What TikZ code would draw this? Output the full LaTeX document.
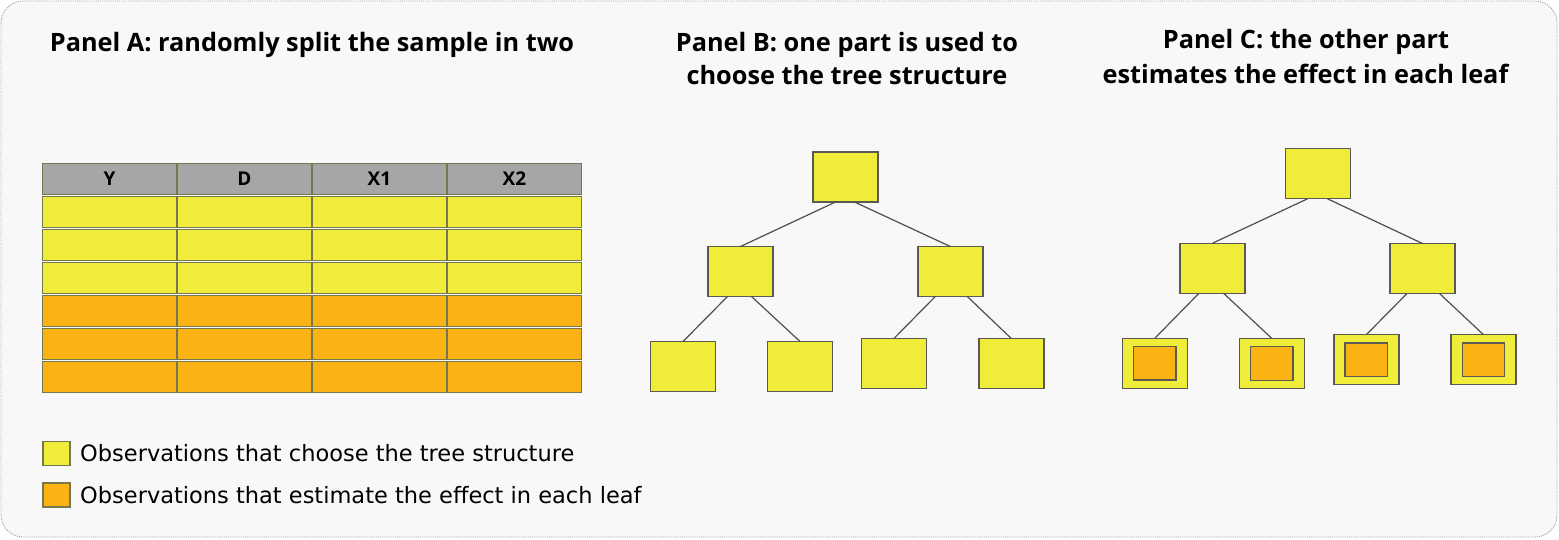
\documentclass[tikz,border=0pt]{standalone}
\usepackage{fontspec}
\setmainfont{Open Sans}
\newfontfamily\legfont{DejaVu Sans}
\definecolor{bgc}{HTML}{F8F8F8}
\definecolor{framec}{HTML}{A0A0A0}
\definecolor{yel}{HTML}{EFEC3A}
\definecolor{ora}{HTML}{FBB215}
\definecolor{hdr}{HTML}{A6A6A6}
\definecolor{cellb}{HTML}{77774F}
\definecolor{boxb}{HTML}{5A5A50}
\definecolor{edgec}{HTML}{4F4F4F}
\tikzset{
  title/.style={anchor=base, font=\fontsize{25.3}{30}\selectfont\bfseries, text=black},
  cell/.style={draw=cellb, line width=1.3pt, minimum width=133.5, minimum height=31.5, inner sep=0, outer sep=0},
  hcell/.style={cell, fill=hdr, font=\fontsize{19}{22}\selectfont\bfseries},
  ycell/.style={cell, fill=yel},
  ocell/.style={cell, fill=ora},
  tbox/.style={draw=boxb, line width=1.4pt, fill=yel, minimum width=65, minimum height=50, inner sep=0, outer sep=0},
  ibox/.style={draw=boxb, line width=1.4pt, fill=ora, minimum width=42.5, minimum height=33.5, inner sep=0},
  edge/.style={draw=edgec, line width=1.2pt},
  legsq/.style={draw=cellb, line width=1.2pt, minimum width=27, minimum height=24, inner sep=0},
  legtxt/.style={anchor=base west, font=\legfont\fontsize{22.5}{26}\selectfont, inner sep=0}
}
\begin{document}
\begin{tikzpicture}[x=1pt,y=-1pt]
\useasboundingbox (0,0) rectangle (1559,539);
\draw[draw=framec, densely dotted, line width=0.9pt, fill=bgc, rounded corners=22] (1,1) rectangle (1557,537);

% titles
\node[title] (tA) at (312,51) {Panel A: randomly split the sample in two};
\node[title] (tB1) at (847,51.5) {Panel B: one part is used to};
\node[title] (tB2) at (847,84) {choose the tree structure};
\node[title] (tC1) at (1306,48.5) {Panel C: the other part};
\node[title] (tC2) at (1305.5,83) {estimates the effect in each leaf};

% table
\node[hcell] (hY) at (109.5,179) {Y};
\node[hcell] (hD) at (244.5,179) {D};
\node[hcell] (hX1) at (379.5,179) {X1};
\node[hcell] (hX2) at (514.5,179) {X2};
\foreach \r/\st in {1/ycell,2/ycell,3/ycell,4/ocell,5/ocell,6/ocell}{
  \foreach \c/\cx in {1/109.5,2/244.5,3/379.5,4/514.5}{
    \node[\st] (c\r\c) at (\cx,{179+33*\r}) {};
  }
}

% legend
\node[legsq, fill=yel] (lg1) at (56.5,453.5) {};
\node[legtxt] (lt1) at (80,461.5) {Observations that choose the tree structure};
\node[legsq, fill=ora] (lg2) at (56.5,495) {};
\node[legtxt] (lt2) at (80,503.5) {Observations that estimate the effect in each leaf};

% Panel B tree
\node[tbox] (bR) at (845.5,177) {};
\node[tbox] (bL) at (740.5,271.5) {};
\node[tbox] (bRr) at (950.3,271.5) {};
\node[tbox] (bL1) at (683,366.5) {};
\node[tbox] (bL2) at (800,366.5) {};
\node[tbox] (bL3) at (894.2,363.2) {};
\node[tbox] (bL4) at (1011.3,363.5) {};
\draw[edge] ([xshift=-10]bR.south) -- (bL.north);
\draw[edge] ([xshift=9]bR.south) -- (bRr.north);
\draw[edge] ([xshift=-13]bL.south) -- (bL1.north);
\draw[edge] ([xshift=11]bL.south) -- (bL2.north);
\draw[edge] ([xshift=-15]bRr.south) -- (bL3.north);
\draw[edge] ([xshift=17]bRr.south) -- (bL4.north);

% Panel C tree
\node[tbox] (cR) at (1317.7,173.7) {};
\node[tbox] (cL) at (1212.5,268.2) {};
\node[tbox] (cRr) at (1422.5,268.5) {};
\node[tbox] (cL1) at (1154.9,363.2) {};
\node[tbox] (cL2) at (1271.9,363.5) {};
\node[tbox] (cL3) at (1366.3,359.7) {};
\node[tbox] (cL4) at (1483.5,359.7) {};
\node[ibox] (iL1) at (cL1.center) {};
\node[ibox] (iL2) at (cL2.center) {};
\node[ibox] (iL3) at (cL3.center) {};
\node[ibox] (iL4) at (cL4.center) {};
\draw[edge] ([xshift=-10]cR.south) -- (cL.north);
\draw[edge] ([xshift=9.6]cR.south) -- (cRr.north);
\draw[edge] ([xshift=-13.5]cL.south) -- (cL1.north);
\draw[edge] ([xshift=11]cL.south) -- (cL2.north);
\draw[edge] ([xshift=-15.5]cRr.south) -- (cL3.north);
\draw[edge] ([xshift=17]cRr.south) -- (cL4.north);
\end{tikzpicture}
\end{document}
